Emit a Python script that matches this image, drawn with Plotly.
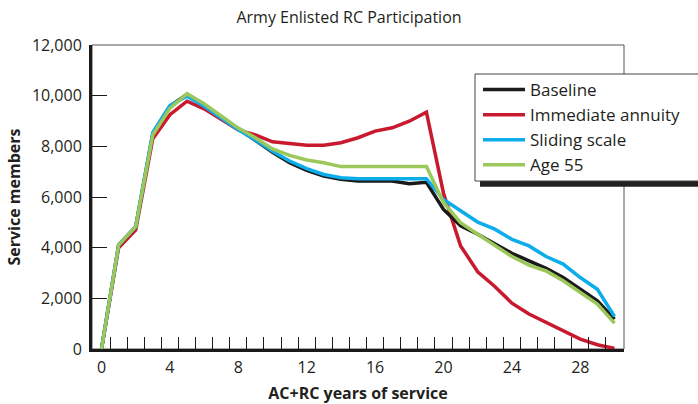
import plotly.graph_objects as go

years = list(range(31))
baseline = [0, 4100, 4830, 8500, 9580, 10050, 9620, 9150, 8680, 8220, 7770, 7350, 7050, 6830, 6700,
            6630, 6630, 6630, 6520, 6580, 5510, 4860, 4530, 4140, 3780, 3480, 3180, 2820, 2360, 1900, 1180]
immediate = [0, 4000, 4700, 8300, 9250, 9780, 9480, 9050, 8650, 8450, 8180, 8110, 8040, 8040, 8140,
             8340, 8600, 8730, 8990, 9350, 6150, 4070, 3050, 2470, 1810, 1380, 1050, 720, 390, 170, 20]
sliding = [0, 4100, 4830, 8550, 9610, 9980, 9580, 9130, 8650, 8250, 7810, 7420, 7120, 6890, 6760,
           6720, 6720, 6720, 6720, 6720, 5900, 5450, 5010, 4730, 4330, 4070, 3650, 3350, 2820, 2360, 1290]
age55 = [0, 4100, 4830, 8450, 9500, 10080, 9680, 9180, 8720, 8340, 7900, 7640, 7460, 7350, 7200,
         7200, 7200, 7200, 7200, 7200, 5780, 4990, 4530, 4100, 3650, 3310, 3080, 2690, 2230, 1770, 1020]

x_tick_vals = [0, 4, 8, 12, 16, 20, 24, 28]
x_tick_text = ["0", "4", "8", "12", "16", "20", "24", "28"]
x_minor_vals = [i + 0.5 for i in range(30)]
y_tick_vals = [0, 2000, 4000, 6000, 8000, 10000, 12000]
y_tick_text = ["0", "2,000", "4,000", "6,000", "8,000", "10,000", "12,000"]

FONT = "Open Sans"
TXT = "#231f20"

series = [
    ("Immediate annuity", immediate, "#c8192f", 2),
    ("Baseline", baseline, "#1a1a1a", 1),
    ("Sliding scale", sliding, "#0dacea", 3),
    ("Age 55", age55, "#9cc75a", 4),
]

fig = go.Figure()
for name, vals, color, rank in series:
    fig.add_trace(go.Scatter(x=years, y=vals, mode="lines", name=name,
                             line=dict(color=color, width=3.5), legendrank=rank))

W, H = 698, 404
L, R, T, B = 92, 74, 45, 55
pw = W - L - R
ph = H - T - B

def px_x(p):
    return (p - L) / pw

def px_y(p):
    return (H - B - p) / ph

fig.update_layout(
    width=W, height=H,
    margin=dict(l=L, r=R, t=T, b=B, autoexpand=False),
    paper_bgcolor="white", plot_bgcolor="white",
    font=dict(family=FONT, size=16, color=TXT),
    title=dict(text="Army Enlisted RC Participation", x=0.5, xref="container", xanchor="center",
               y=1 - 17 / H, yref="container", yanchor="middle",
               font=dict(size=16, family=FONT, color=TXT)),
    xaxis=dict(range=[-0.556, 30.556], tickmode="array", tickvals=x_tick_vals, ticktext=x_tick_text,
               ticks="", showgrid=False, zeroline=False, showline=True, linecolor="#1a1a1a",
               linewidth=3, ticklabelstandoff=2,
               minor=dict(tickmode="array", tickvals=x_minor_vals, ticks="inside", ticklen=12,
                          tickwidth=1.3, tickcolor="#1a1a1a", showgrid=False),
               title=dict(text="<b>AC+RC years of service</b>", standoff=12,
                          font=dict(size=16, family=FONT, color=TXT))),
    yaxis=dict(range=[0, 12000], tickmode="array", tickvals=y_tick_vals, ticktext=y_tick_text,
               ticks="inside", ticklen=15, tickwidth=1.3, tickcolor="#1a1a1a",
               showgrid=False, zeroline=False, showline=True, linecolor="#1a1a1a", linewidth=3,
               ticklabelstandoff=4,
               title=dict(text="<b>Service members</b>", standoff=8,
                          font=dict(size=16, family=FONT, color=TXT))),
    legend=dict(x=px_x(478), y=px_y(72), xanchor="left", yanchor="top",
                bgcolor="rgba(0,0,0,0)", borderwidth=0,
                itemwidth=42, font=dict(size=17, family=FONT, color=TXT),
                tracegroupgap=0),
    showlegend=True,
)

# thin frame on top / right
fig.add_shape(type="rect", xref="paper", yref="paper", x0=0, x1=1, y0=0, y1=1,
              line=dict(color="#555555", width=1), layer="below")
# legend shadow and box (box continues past the page edge, as in the source)
fig.add_shape(type="rect", xref="paper", yref="paper",
              x0=px_x(480), x1=px_x(780), y0=px_y(186.7), y1=px_y(79),
              line=dict(width=0), fillcolor="#231f20", layer="above")
fig.add_shape(type="rect", xref="paper", yref="paper",
              x0=px_x(475), x1=px_x(775), y0=px_y(181), y1=px_y(74),
              line=dict(width=1, color="#444444"), fillcolor="white", layer="above")

fig.write_html("out.html", config={"displayModeBar": False},
               post_script="document.body.style.margin='0';")
